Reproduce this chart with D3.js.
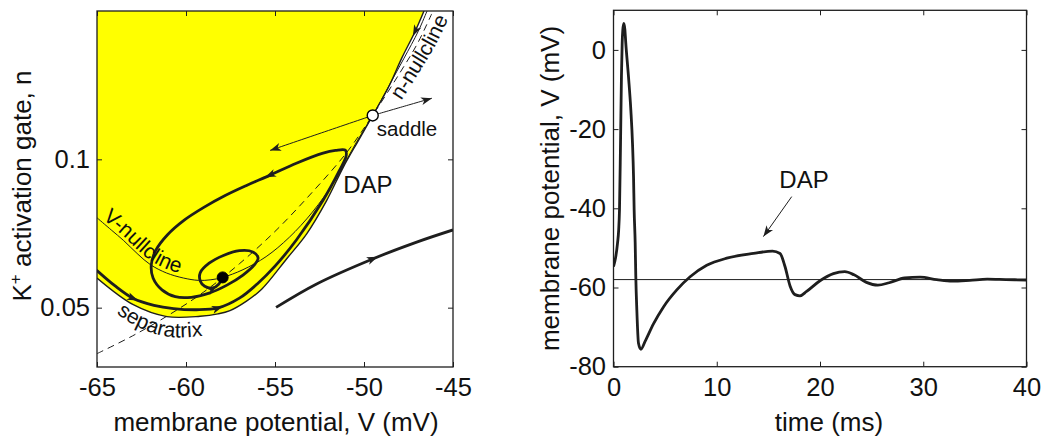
<!DOCTYPE html>
<html>
<head>
<meta charset="utf-8">
<script src="https://cdn.jsdelivr.net/npm/d3@7"></script>
<style>
  html, body { margin: 0; padding: 0; background: #ffffff; }
  svg { display: block; font-family: "Liberation Sans", Arial, Helvetica, sans-serif; }
</style>
</head>
<body>
<svg id="fig" width="1057" height="438"></svg>
<script>
// ---------------- Phase plane (V in mV, n dimensionless) ----------------
const phaseXTicks = [-65, -60, -55, -50, -45];
const phaseYTicks = [0.05, 0.1];

// stable manifold of the saddle: border of the rest-state basin
const separatrix = [
  [-46.63, 0.1500], [-47.13, 0.1431], [-47.88, 0.1341], [-48.63, 0.1242], [-49.51, 0.1148],
  [-50.30, 0.1065], [-51.16, 0.0974], [-52.10, 0.0861], [-53.22, 0.0749], [-54.34, 0.0665],
  [-55.75, 0.0562], [-56.60, 0.0522], [-57.53, 0.0490], [-58.20, 0.0479], [-59.21, 0.0471],
  [-61.08, 0.0470], [-62.96, 0.0510], [-65.00, 0.0600]
];

const vNullcline = [
  [-65.00, 0.0803], [-64.20, 0.0762], [-63.50, 0.0726], [-62.70, 0.0680], [-62.00, 0.0645],
  [-61.10, 0.0617], [-60.15, 0.0600], [-59.30, 0.0592], [-58.60, 0.0594], [-57.94, 0.0602],
  [-56.80, 0.0628], [-55.50, 0.0672], [-54.20, 0.0737], [-52.90, 0.0822], [-51.60, 0.0931],
  [-50.50, 0.1050], [-49.51, 0.1148], [-48.60, 0.1248], [-47.75, 0.1341], [-46.95, 0.1432],
  [-46.46, 0.1500]
];

const nNullcline = [
  [-65.0, 0.0345], [-63.0, 0.0405], [-61.0, 0.0474], [-59.0, 0.0553], [-57.0, 0.0648],
  [-55.0, 0.0757], [-53.0, 0.0883], [-51.0, 0.1021], [-49.5, 0.1150], [-48.0, 0.1290],
  [-47.0, 0.1390], [-46.2, 0.1490]
];

// trajectory with the depolarizing after-potential, ending in the spiral to rest
const dapTrajectory = [
  [-65.00, 0.0625], [-64.00, 0.0574], [-62.96, 0.0531], [-61.80, 0.0508], [-60.70, 0.0497],
  [-59.40, 0.0493], [-58.20, 0.0499], [-57.00, 0.0532], [-56.00, 0.0580], [-55.00, 0.0640],
  [-53.80, 0.0728], [-52.30, 0.0862], [-51.40, 0.0960], [-51.00, 0.1012], [-51.05, 0.1031],
  [-51.60, 0.1030], [-52.30, 0.1021], [-53.80, 0.0987], [-55.30, 0.0946], [-56.60, 0.0912],
  [-57.80, 0.0878], [-59.00, 0.0838], [-60.10, 0.0795], [-61.05, 0.0745], [-61.70, 0.0693],
  [-61.95, 0.0645], [-61.85, 0.0600], [-61.35, 0.0560], [-60.60, 0.0537], [-59.70, 0.0535],
  [-58.70, 0.0549], [-57.70, 0.0576], [-56.80, 0.0610], [-56.15, 0.0645], [-55.95, 0.0668],
  [-56.25, 0.0688], [-57.00, 0.0692], [-57.90, 0.0676], [-58.70, 0.0650], [-59.20, 0.0618],
  [-59.20, 0.0590], [-58.95, 0.0572], [-58.50, 0.0566], [-58.15, 0.0580], [-57.94, 0.0602]
];

// trajectory outside the basin, heading off to fire a spike
const spikingTrajectory = [
  [-54.94, 0.0501], [-52.66, 0.0580], [-49.48, 0.0665], [-47.04, 0.0721], [-45.00, 0.0762]
];

// unstable manifold of the saddle, both branches
const unstableLeft = [[-49.51, 0.1148], [-52.40, 0.1089], [-55.28, 0.1030]];
const unstableRight = [[-49.51, 0.1148], [-47.85, 0.1177], [-46.18, 0.1206]];

const saddlePoint = [-49.51, 0.1148];
const restPoint = [-57.94, 0.0602];

// arrowheads: curve name, vertex index, whether the tip sits on the vertex
const phaseArrows = [
  { curve: "dap", at: 2, end: false },
  { curve: "dap", at: 6, end: false },
  { curve: "dap", at: 18, end: false },
  { curve: "dap", at: 42, end: false },
  { curve: "spiking", at: 2, end: false },
  { curve: "separatrix", at: 1, end: false },
  { curve: "unstableLeft", at: 2, end: true },
  { curve: "unstableRight", at: 2, end: true }
];

// ---------------- Voltage trace ----------------
const timeMs = [
  0, 0.2, 0.39, 0.5, 0.58, 0.68, 0.77, 0.84, 0.9, 1.0,
  1.1, 1.19, 1.45, 1.68, 1.84, 1.94, 2.0, 2.1, 2.16, 2.26,
  2.42, 2.65, 3.06, 3.87, 4.84, 6.13, 7.42, 9.03, 10.97, 13.55,
  15.4, 16.13, 16.61, 17.1, 17.58, 18.06, 18.7, 20.0, 21.3, 22.4,
  23.3, 24.5, 25.6, 26.7, 28.2, 29.7, 31.3, 32.8, 34.5, 36.2,
  38.0, 40.0
];
const voltageMv = [
  -54.7, -52.5, -48.8, -45.5, -40.4, -23.6, -6.7, 1.7, 5.0, 6.7,
  5.2, 1.7, -6.7, -15.2, -23.6, -32.0, -40.4, -48.8, -57.2, -65.7,
  -74.1, -75.6, -73.6, -69.2, -64.9, -60.6, -57.3, -54.4, -52.6, -51.4,
  -50.8, -51.4, -54.7, -59.6, -61.8, -62.1, -61.0, -58.3, -56.5, -56.0,
  -56.8, -58.7, -59.4, -58.8, -57.6, -57.4, -58.0, -58.4, -58.2, -57.9,
  -58.0, -58.1
];
const restLevelMv = -58;
const traceXTicks = [0, 10, 20, 30, 40];
const traceYTicks = [-80, -60, -40, -20, 0];

// ---------------- Drawing ----------------
const ink = "#1e1e1e";
const svg = d3.select("#fig");
const defs = svg.append("defs");

const px = d3.scaleLinear().domain([-65, -45]).range([97, 453]);
const py = d3.scaleLinear().domain([0.03, 0.15]).range([367, 11]);
const tx = d3.scaleLinear().domain([0, 40]).range([613.5, 1026.5]);
const ty = d3.scaleLinear().domain([-80, 10]).range([366.7, 10.3]);

function clipFor(id, xs, ys) {
  const [x0, x1] = xs.range();
  const [y0, y1] = ys.range();
  defs.append("clipPath").attr("id", id).append("rect")
    .attr("x", x0).attr("y", y1).attr("width", x1 - x0).attr("height", y0 - y1);
  return `url(#${id})`;
}

const lineP = d3.line().x(d => px(d[0])).y(d => py(d[1])).curve(d3.curveCatmullRom.alpha(0.5));

// lengths along a path at which it passes through each vertex, in order
function vertexLengths(node, pts) {
  const total = node.getTotalLength();
  const out = [];
  let L = 0;
  for (const p of pts) {
    let best = L, bestD = Infinity;
    for (let s = L; s <= total; s += 0.25) {
      const q = node.getPointAtLength(s);
      const d = Math.hypot(q.x - p[0], q.y - p[1]);
      if (d < bestD) { bestD = d; best = s; }
      if (bestD < 0.6 && d > bestD + 3) break;
    }
    out.push(best);
    L = best;
  }
  return out;
}

function arrowHead(g, node, L, end) {
  const total = node.getTotalLength();
  const tipL = end ? total : Math.min(total, L + 5);
  const a = node.getPointAtLength(Math.max(0, tipL - 4));
  const b = node.getPointAtLength(tipL);
  const ang = Math.atan2(b.y - a.y, b.x - a.x) * 180 / Math.PI;
  g.append("path")
    .attr("d", "M0,0L-11,-4L-8,0L-11,4Z")
    .attr("transform", `translate(${b.x},${b.y}) rotate(${ang})`)
    .attr("fill", ink);
}

function box(g, xs, ys, xTicks, yTicks, fmtX, fmtY, padX, padY) {
  const [x0, x1] = xs.range();
  const [y0, y1] = ys.range();
  const style = sel => {
    sel.select(".domain").remove();
    sel.selectAll("line").attr("stroke", ink).attr("stroke-width", 1);
    sel.selectAll("text").attr("fill", "#111").style("font-size", "25.5px")
      .style("font-family", "'Liberation Sans', Arial, Helvetica, sans-serif");
  };
  g.append("g").attr("transform", `translate(0,${y0})`)
    .call(d3.axisBottom(xs).tickValues(xTicks).tickFormat(fmtX).tickSizeInner(-5).tickSizeOuter(0).tickPadding(padX))
    .call(style);
  g.append("g").attr("transform", `translate(0,${y1})`)
    .call(d3.axisTop(xs).tickValues(xTicks).tickFormat("").tickSizeInner(-5).tickSizeOuter(0))
    .call(style);
  g.append("g").attr("transform", `translate(${x0},0)`)
    .call(d3.axisLeft(ys).tickValues(yTicks).tickFormat(fmtY).tickSizeInner(-5).tickSizeOuter(0).tickPadding(padY))
    .call(style);
  g.append("g").attr("transform", `translate(${x1},0)`)
    .call(d3.axisRight(ys).tickValues(yTicks).tickFormat("").tickSizeInner(-5).tickSizeOuter(0))
    .call(style);
  g.append("rect").attr("x", x0).attr("y", y1).attr("width", x1 - x0).attr("height", y0 - y1)
    .attr("fill", "none").attr("stroke", ink).attr("stroke-width", 1.3);
}

// ===== left panel =====
const phase = svg.append("g");
const plot = phase.append("g").attr("clip-path", clipFor("phaseClip", px, py));

// basin of attraction of the rest state
plot.append("path")
  .attr("d", lineP(separatrix) + `L${px(-65)},${py(0.15)}Z`)
  .attr("fill", "#ffff00").attr("stroke", "none");

const curves = {};
curves.nNull = plot.append("path").attr("d", lineP(nNullcline))
  .attr("fill", "none").attr("stroke", ink).attr("stroke-width", 1)
  .attr("stroke-dasharray", "7,5");
curves.vNull = plot.append("path").attr("d", lineP(vNullcline))
  .attr("fill", "none").attr("stroke", ink).attr("stroke-width", 1);
curves.separatrix = plot.append("path").attr("d", lineP(separatrix))
  .attr("fill", "none").attr("stroke", ink).attr("stroke-width", 1.4);
curves.unstableLeft = plot.append("path").attr("d", lineP(unstableLeft))
  .attr("fill", "none").attr("stroke", ink).attr("stroke-width", 1);
curves.unstableRight = plot.append("path").attr("d", lineP(unstableRight))
  .attr("fill", "none").attr("stroke", ink).attr("stroke-width", 1);
curves.dap = plot.append("path").attr("d", lineP(dapTrajectory))
  .attr("fill", "none").attr("stroke", ink).attr("stroke-width", 2.8)
  .attr("stroke-linejoin", "round").attr("stroke-linecap", "round");
curves.spiking = plot.append("path").attr("d", lineP(spikingTrajectory))
  .attr("fill", "none").attr("stroke", ink).attr("stroke-width", 2.8);

const curveData = {
  dap: dapTrajectory, spiking: spikingTrajectory, separatrix: separatrix,
  unstableLeft: unstableLeft, unstableRight: unstableRight
};
const lengthCache = {};
for (const a of phaseArrows) {
  const node = curves[a.curve].node();
  if (!lengthCache[a.curve]) {
    lengthCache[a.curve] = vertexLengths(node, curveData[a.curve].map(d => [px(d[0]), py(d[1])]));
  }
  arrowHead(phase, node, lengthCache[a.curve][a.at], a.end);
}

// fixed points
phase.append("circle").attr("cx", px(restPoint[0])).attr("cy", py(restPoint[1])).attr("r", 5.5)
  .attr("fill", "#000").attr("stroke", "#000");
phase.append("circle").attr("cx", px(saddlePoint[0])).attr("cy", py(saddlePoint[1])).attr("r", 5.5)
  .attr("fill", "#fff").attr("stroke", "#000").attr("stroke-width", 1.4);

// labels that run along the curves
function guide(id, pts, dx, dy) {
  const d = d3.line().curve(d3.curveCatmullRom.alpha(0.5))(pts.map(p => [px(p[0]) + dx, py(p[1]) + dy]));
  return defs.append("path").attr("id", id).attr("d", d).node();
}
function offsetWhere(node, test) {
  const total = node.getTotalLength();
  for (let s = 0; s <= total; s += 0.5) {
    if (test(node.getPointAtLength(s))) return s;
  }
  return 0;
}
function curvedLabel(id, node, text, startTest) {
  phase.append("text").style("font-size", "21px").attr("fill", "#111")
    .append("textPath").attr("href", "#" + id)
    .attr("startOffset", offsetWhere(node, startTest))
    .text(text);
}
const vGuide = guide("vNullGuide", vNullcline, 0, -4);
curvedLabel("vNullGuide", vGuide, "V-nullcline", p => p.x >= 102);
const sGuide = guide("sepGuide", separatrix.slice().reverse(), 0, 20);
curvedLabel("sepGuide", sGuide, "separatrix", p => p.x >= 116);
const nGuide = guide("nNullGuide", nNullcline, 19, 0);
curvedLabel("nNullGuide", nGuide, "n-nullcline", p => p.y <= 101);

phase.append("text").attr("x", px(-47.58)).attr("y", py(0.1078)).attr("text-anchor", "middle")
  .style("font-size", "20.5px").attr("fill", "#111").text("saddle");
phase.append("text").attr("x", px(-49.78)).attr("y", py(0.0885)).attr("text-anchor", "middle")
  .style("font-size", "24px").attr("fill", "#111").text("DAP");

box(phase, px, py, phaseXTicks, phaseYTicks, d => String(d), d => String(d), 11, 7);

phase.append("text").attr("x", 276).attr("y", 431).attr("text-anchor", "middle")
  .style("font-size", "26px").attr("fill", "#111").text("membrane potential, V (mV)");
const yl = phase.append("text").attr("transform", "translate(31,186) rotate(-90)")
  .attr("text-anchor", "middle").style("font-size", "26px").attr("fill", "#111");
yl.append("tspan").text("K");
yl.append("tspan").attr("dy", -10).style("font-size", "17px").text("+");
yl.append("tspan").attr("dy", 10).text(" activation gate, n");

// ===== right panel =====
const trace = svg.append("g");
const tplot = trace.append("g").attr("clip-path", clipFor("traceClip", tx, ty));

tplot.append("line")
  .attr("x1", tx(0)).attr("x2", tx(40)).attr("y1", ty(restLevelMv)).attr("y2", ty(restLevelMv))
  .attr("stroke", ink).attr("stroke-width", 1);

const traceData = timeMs.map((t, i) => [t, voltageMv[i]]);
tplot.append("path")
  .attr("d", d3.line().x(d => tx(d[0])).y(d => ty(d[1])).curve(d3.curveMonotoneX)(traceData))
  .attr("fill", "none").attr("stroke", ink).attr("stroke-width", 2.8)
  .attr("stroke-linejoin", "round");

// DAP annotation with pointer
const dapPointer = [[17.26, -37.05], [14.52, -47.15]];
const ptrNode = trace.append("path")
  .attr("d", d3.line().x(d => tx(d[0])).y(d => ty(d[1]))(dapPointer))
  .attr("stroke", ink).attr("stroke-width", 1).attr("fill", "none").node();
arrowHead(trace, ptrNode, 0, true);
trace.append("text").attr("x", tx(18.45)).attr("y", ty(-34.85)).attr("text-anchor", "middle")
  .style("font-size", "24px").attr("fill", "#111").text("DAP");

box(trace, tx, ty, traceXTicks, traceYTicks, d => String(d), d => String(d), 11, 7.5);

trace.append("text").attr("x", 829).attr("y", 431).attr("text-anchor", "middle")
  .style("font-size", "26px").attr("fill", "#111").text("time (ms)");
trace.append("text").attr("transform", "translate(559,188.5) rotate(-90)")
  .attr("text-anchor", "middle").style("font-size", "26px").attr("fill", "#111")
  .text("membrane potential, V (mV)");
</script>
</body>
</html>
